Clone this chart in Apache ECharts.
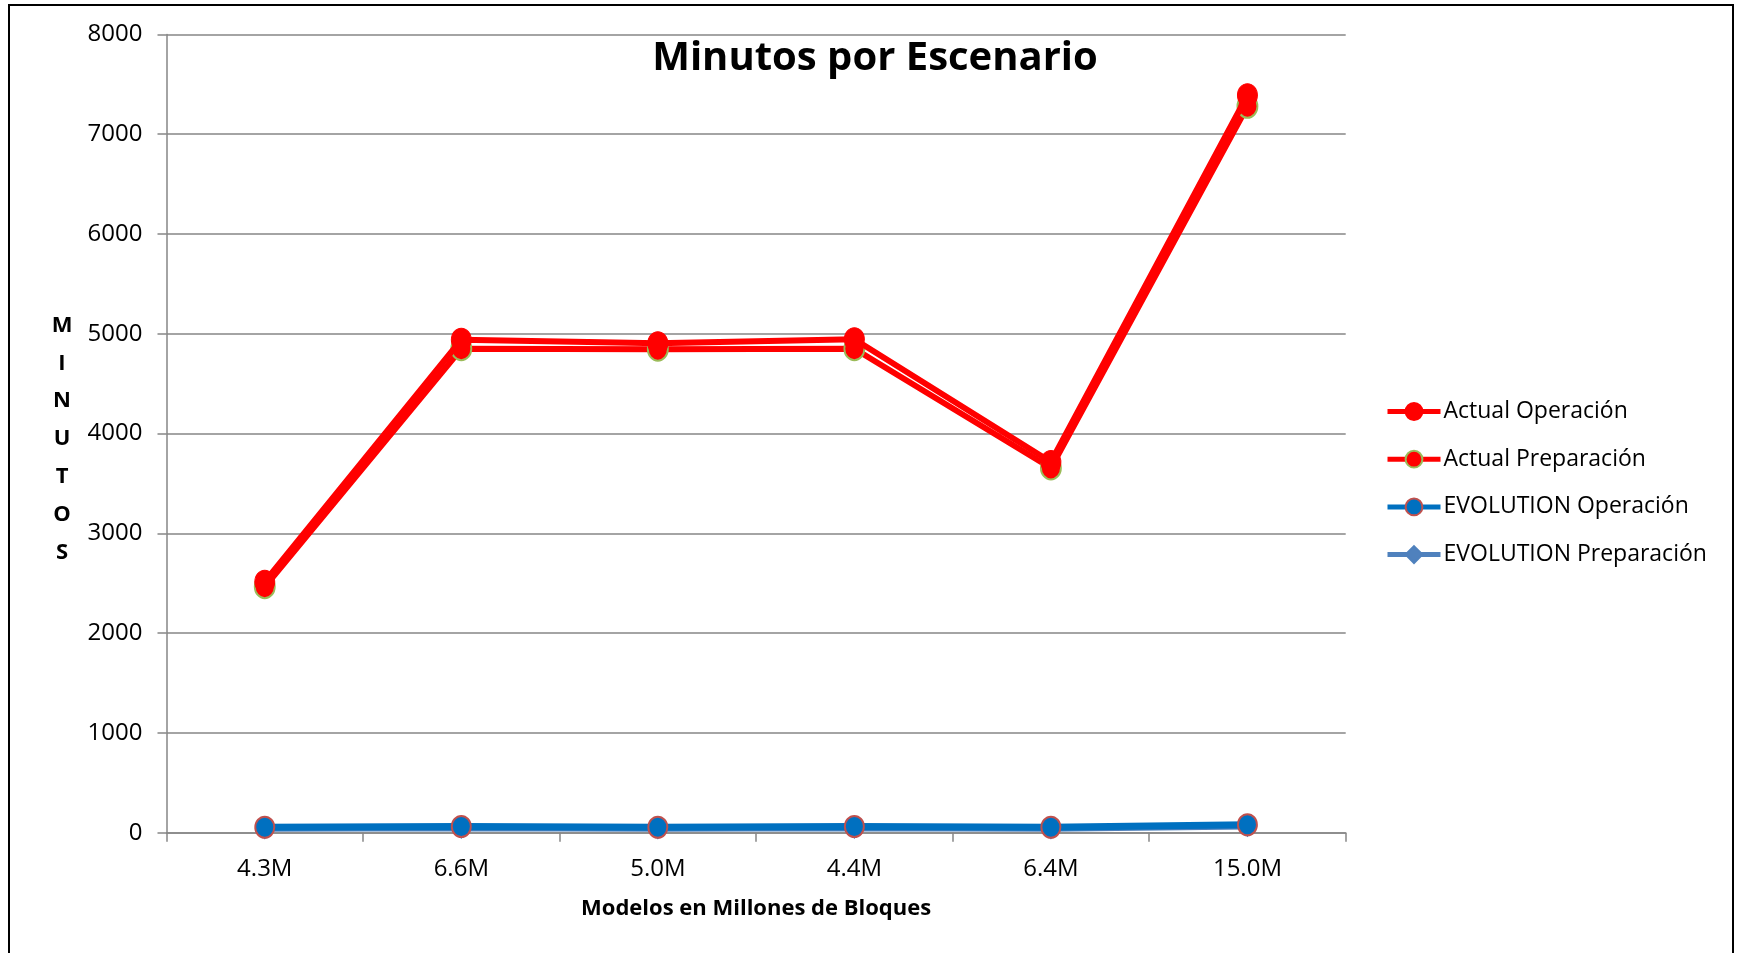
<!DOCTYPE html>
<html>
<head>
<meta charset="utf-8">
<script src="https://cdn.jsdelivr.net/npm/echarts@6/dist/echarts.min.js"></script>
<style>
  html, body { margin: 0; padding: 0; background: #fff; }
  #chart { width: 1741px; height: 953px; }
</style>
</head>
<body>
<div id="chart"></div>
<script>
// Model sizes (millions of blocks) per scenario
const categories = ['4.3M', '6.6M', '5.0M', '4.4M', '6.4M', '15.0M'];

// Minutes per scenario
const actualOperacion      = [2515, 4940, 4905, 4945, 3715, 7390];
const actualPreparacion    = [2465, 4850, 4845, 4850, 3655, 7280];
const evolutionOperacion   = [55, 62, 55, 62, 55, 80];
const evolutionPreparacion = [45, 50, 45, 50, 45, 68];

const seriesNames = ['Actual Operación', 'Actual Preparación', 'EVOLUTION Operación', 'EVOLUTION Preparación'];

const FONT = '"Open Sans", "Noto Sans", sans-serif';

const chart = echarts.init(document.getElementById('chart'));

chart.setOption({
  animation: false,
  backgroundColor: '#ffffff',
  title: {
    text: 'Minutos por Escenario',
    left: 870,
    top: 34,
    textAlign: 'center',
    textStyle: { fontFamily: FONT, fontWeight: 'bold', fontSize: 40, color: '#000' }
  },
  graphic: [
    {
      // chart frame
      type: 'rect',
      shape: { x: 9, y: 5, width: 1724, height: 960 },
      style: { fill: 'none', stroke: '#000', lineWidth: 2 },
      silent: true,
      z: -1
    },
    {
      // vertical y-axis title, one letter per line
      type: 'text',
      x: 62,
      y: 439,
      style: {
        text: 'M\nI\nN\nU\nT\nO\nS',
        fontFamily: FONT,
        fontWeight: 'bold',
        fontSize: 22,
        lineHeight: 37.8,
        fill: '#000',
        align: 'center',
        verticalAlign: 'middle'
      },
      silent: true
    }
  ],
  legend: {
    orient: 'vertical',
    left: 1380,
    top: 394.5,
    itemWidth: 53,
    itemHeight: 21,
    itemGap: 23.7,
    lineStyle: { width: 5 },
    textStyle: { fontFamily: FONT, fontSize: 23, lineHeight: 24, color: '#000', padding: [0, 0, 0, -2] },
    data: seriesNames
  },
  grid: { left: 166.5, right: 395.3, top: 34.4, bottom: 120.3, containLabel: false },
  xAxis: {
    type: 'category',
    data: categories,
    boundaryGap: true,
    name: 'Modelos en Millones de Bloques',
    nameLocation: 'middle',
    nameGap: 65,
    nameTextStyle: { fontFamily: FONT, fontWeight: 'bold', fontSize: 22, color: '#000' },
    axisLine: { lineStyle: { color: '#868686', width: 1.5 } },
    axisTick: { show: true, length: 9, alignWithLabel: false, lineStyle: { color: '#868686', width: 1.5 } },
    axisLabel: { fontFamily: FONT, fontSize: 24, color: '#000', margin: 24 }
  },
  yAxis: {
    type: 'value',
    min: 0,
    max: 8000,
    interval: 1000,
    axisLine: { show: true, lineStyle: { color: '#868686', width: 1.5 } },
    axisTick: { show: true, length: 9, lineStyle: { color: '#868686', width: 1.5 } },
    splitLine: { show: true, lineStyle: { color: '#868686', width: 1.5 } },
    axisLabel: { fontFamily: FONT, fontSize: 24, color: '#000', margin: 24, formatter: v => String(v) }
  },
  series: [
    {
      name: seriesNames[0], type: 'line', data: actualOperacion, z: 5,
      symbol: 'circle', symbolSize: [20, 23],
      lineStyle: { color: '#FF0000', width: 6 },
      itemStyle: { color: '#FF0000', borderColor: '#FF0000', borderWidth: 1 }
    },
    {
      name: seriesNames[1], type: 'line', data: actualPreparacion, z: 4,
      symbol: 'circle', symbolSize: [20, 23],
      lineStyle: { color: '#FF0000', width: 6 },
      itemStyle: { color: '#FF0000', borderColor: '#9BBB59', borderWidth: 2 }
    },
    {
      name: seriesNames[2], type: 'line', data: evolutionOperacion, z: 3,
      symbol: 'circle', symbolSize: [19, 21],
      lineStyle: { color: '#0070C0', width: 7 },
      itemStyle: { color: '#0070C0', borderColor: '#C0504D', borderWidth: 2 }
    },
    {
      name: seriesNames[3], type: 'line', data: evolutionPreparacion, z: 2,
      symbol: 'diamond', symbolSize: [19, 21],
      lineStyle: { color: '#4F81BD', width: 7 },
      itemStyle: { color: '#4F81BD', borderColor: '#4F81BD', borderWidth: 1 }
    }
  ]
});
</script>
</body>
</html>
